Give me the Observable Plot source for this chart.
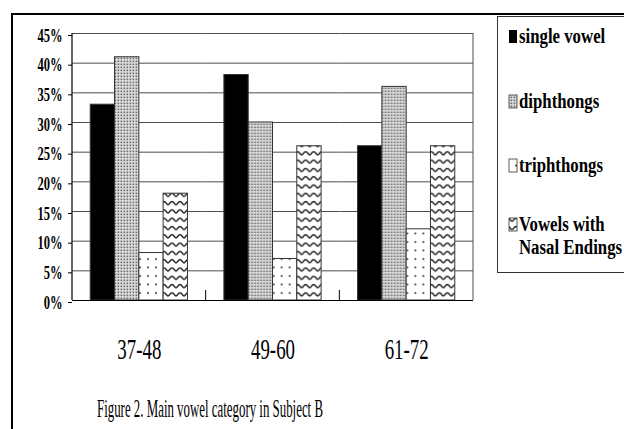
<!DOCTYPE html>
<html>
<head>
<meta charset="utf-8">
<script src="https://cdn.jsdelivr.net/npm/d3@7"></script>
<script src="https://cdn.jsdelivr.net/npm/@observablehq/plot@0.6"></script>
<style>
  body { margin: 0; background: #fff; }
  #chart { position: relative; width: 624px; height: 429px; overflow: hidden; }
</style>
</head>
<body>
<!-- Hatch patterns shared by the bars and the legend swatches -->
<svg width="0" height="0" style="position:absolute">
  <defs>
    <pattern id="dip" width="3" height="3" patternUnits="userSpaceOnUse">
      <rect width="3" height="3" fill="#d9d9d9"/>
      <rect x="0.6" y="0.6" width="1.5" height="1.5" fill="#666"/>
    </pattern>
    <pattern id="tri" width="8" height="8.5" patternUnits="userSpaceOnUse">
      <rect width="8" height="8.5" fill="#fff"/>
      <circle cx="4" cy="4" r="0.9" fill="#111"/>
    </pattern>
    <pattern id="nas" width="8" height="8.3" patternUnits="userSpaceOnUse">
      <rect width="8" height="8.3" fill="#fff"/>
      <path d="M0,5.5 C1.5,5.5 2.2,2.2 4,2.2 C5.8,2.2 6.5,5.5 8,5.5" fill="none" stroke="#222" stroke-width="1.4"/>
    </pattern>
  </defs>
</svg>
<div id="chart"></div>
<script>
// Share of each vowel category (%) per age range, Subject B
const ageGroups = ["37-48", "49-60", "61-72"];
const categories = ["single vowel", "diphthongs", "triphthongs", "Vowels with Nasal Endings"];
const singleVowel = [33, 38, 26];
const diphthongs = [41, 30, 36];
const triphthongs = [8, 7, 12];
const nasalEndings = [18, 26, 26];
const yTicks = [0, 5, 10, 15, 20, 25, 30, 35, 40, 45];
const legendLines = [["single vowel"], ["diphthongs"], ["triphthongs"], ["Vowels with", "Nasal Endings"]];
const captionText = "Figure 2. Main vowel category in Subject B";
const fills = ["#000", "url(#dip)", "url(#tri)", "url(#nas)"];

const series = [singleVowel, diphthongs, triphthongs, nasalEndings];
const rows = ageGroups.flatMap((group, i) =>
  series.map((values, j) => ({group, category: categories[j], value: values[i]}))
);

const serif = "'Liberation Serif', 'Times New Roman', serif";

const plot = Plot.plot({
  width: 624,
  height: 429,
  marginLeft: 72,
  marginRight: 151,
  marginTop: 33,
  marginBottom: 129,
  style: {fontFamily: serif, background: "transparent", color: "#000", overflow: "visible"},
  fx: {domain: ageGroups, padding: 0, round: false},
  x: {domain: categories, paddingInner: 0, paddingOuter: 0.75, round: false, axis: null},
  y: {domain: [0, 45]},
  color: {domain: categories, range: fills},
  marks: [
    Plot.gridY(yTicks, {stroke: "#4d4d4d", strokeOpacity: 1, strokeWidth: 1}),
    Plot.barY(rows, {fx: "group", x: "category", y: "value", fill: "category", stroke: "#333", strokeWidth: 1}),
    Plot.ruleY([0], {stroke: "#000", strokeWidth: 1.2}),
    Plot.axisY(yTicks, {
      tickSize: 4, tickPadding: 6, tickFormat: d => d + "%",
      fontSize: 19, fontWeight: "bold", label: null, dy: 2
    }),
    Plot.axisFx({anchor: "bottom", tickSize: 0, tickPadding: 37, fontSize: 30, label: null})
  ]
});

document.getElementById("chart").appendChild(plot);
const svg = d3.select(plot);

// Narrow the glyphs horizontally around each label's anchor point
function squeeze(selection, k) {
  selection.each(function () {
    const t = this.getAttribute("transform") || "";
    const x = +this.getAttribute("x") || 0;
    const y = +this.getAttribute("y") || 0;
    this.setAttribute("transform", `${t} translate(${x},${y}) scale(${k},1) translate(${-x},${-y})`);
  });
}
squeeze(svg.selectAll("g[aria-label='y-axis tick label'] text"), 0.66);
squeeze(svg.selectAll("g[aria-label='fx-axis tick label'] text"), 0.63);

// Plot box: left axis line, right border and category boundary ticks
const fxDesc = plot.scale("fx");
const yDesc = plot.scale("y");
const fxScale = Plot.scale({fx: fxDesc});
const yScale = Plot.scale({y: yDesc});
const y0 = yScale.apply(0), yTop = yScale.apply(45);
const step = (fxDesc.range[1] - fxDesc.range[0]) / ageGroups.length;
const left = fxScale.apply(ageGroups[0]);
const right = left + step * ageGroups.length;
const box = svg.append("g");
box.append("line").attr("x1", left).attr("x2", left).attr("y1", yTop).attr("y2", y0)
  .attr("stroke", "#000").attr("stroke-width", 1.2);
box.append("line").attr("x1", right).attr("x2", right).attr("y1", yTop).attr("y2", y0)
  .attr("stroke", "#4d4d4d");
ageGroups.slice(1).forEach(g => {
  const bx = fxScale.apply(g);
  box.append("line").attr("x1", bx).attr("x2", bx).attr("y1", y0 - 10).attr("y2", y0)
    .attr("stroke", "#000");
});

// Outer figure border (top and left edges)
svg.append("path").attr("d", "M12,429V14H630").attr("fill", "none").attr("stroke", "#000").attr("stroke-width", 2);

// Legend
const lg = svg.append("g").attr("font-family", serif).attr("font-weight", "bold")
  .attr("font-size", 21).attr("text-anchor", "start");
lg.append("rect").attr("x", 497.5).attr("y", 16.5).attr("width", 140).attr("height", 256)
  .attr("fill", "#fff").attr("stroke", "#333");
const baselines = [43, 108, 172, 231];
legendLines.forEach((lines, j) => {
  const b = baselines[j];
  lg.append("rect").attr("x", 509).attr("y", b - 13).attr("width", 8).attr("height", 13)
    .attr("fill", fills[j]).attr("stroke", j === 0 ? "none" : "#333").attr("stroke-width", 0.8);
  lines.forEach((line, k) => {
    lg.append("text").attr("x", 519).attr("y", b + k * 23).text(line);
  });
});
squeeze(lg.selectAll("text"), 0.8);

// Caption
svg.append("text").attr("x", 97).attr("y", 417).attr("text-anchor", "start")
  .attr("font-family", serif).attr("font-size", 26)
  .attr("textLength", 226).attr("lengthAdjust", "spacingAndGlyphs")
  .text(captionText);
</script>
</body>
</html>
